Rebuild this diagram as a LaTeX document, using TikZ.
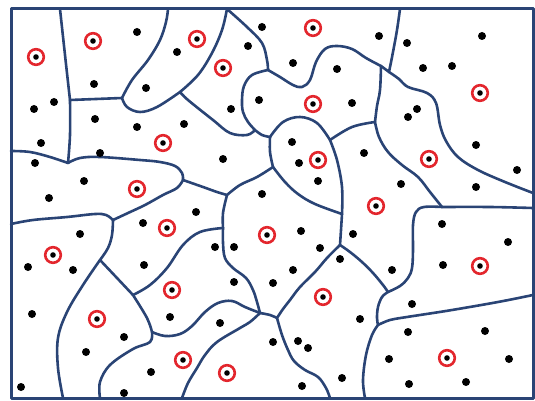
\documentclass[tikz,border=0pt]{standalone}
\usetikzlibrary{positioning}
\definecolor{wallcolor}{HTML}{2A4475}
\definecolor{ringcolor}{HTML}{E3262D}

\begin{document}
\begin{tikzpicture}[x=1pt, y=-1pt, line join=round, line cap=round]

\tikzset{
  boundary/.style={draw=wallcolor, line width=2.6pt},
  sample/.style={fill=black},
  centroid/.style={draw=ringcolor, line width=2.6pt, fill=white},
}

\useasboundingbox (0,0) rectangle (535,401);

% ---- junctions on the frame ----
\coordinate (t1) at (60,9);   \coordinate (t2) at (168,9);
\coordinate (t3) at (227,9);  \coordinate (t4) at (400,9);
\coordinate (l1) at (11,151); \coordinate (l2) at (11,224);
\coordinate (r1) at (533,193); \coordinate (r2) at (533,208);
\coordinate (r3) at (533,295);
\coordinate (b1) at (63,398);  \coordinate (b2) at (100,398);
\coordinate (b3) at (182,398); \coordinate (b4) at (330,398);
\coordinate (b5) at (365,398);

% ---- inner junctions ----
\coordinate (ja) at (70,100);  \coordinate (jb) at (68,163);
\coordinate (jc) at (122,98);  \coordinate (jd) at (180,92);
\coordinate (je) at (268,70);  \coordinate (jf) at (255,130);
\coordinate (jg) at (270,137); \coordinate (jh) at (330,140);
\coordinate (ji) at (375,122); \coordinate (jj) at (381,66);
\coordinate (jz) at (389,72);  \coordinate (jk) at (273,167);
\coordinate (jl) at (342,214); \coordinate (jm) at (340,245);
\coordinate (jn) at (227,195); \coordinate (jo) at (183,180);
\coordinate (jp) at (113,220); \coordinate (jq) at (100,260);
\coordinate (jr) at (133,295); \coordinate (js) at (152,332);
\coordinate (jt) at (223,228); \coordinate (ju) at (260,313);
\coordinate (jv) at (277,318); \coordinate (jw) at (388,292);
\coordinate (jx) at (378,325); \coordinate (jy) at (442,207);

% ---- upper left cells ----
\draw[boundary] plot[smooth, tension=0.6] coordinates {(t1) (65,55) (ja)};
\draw[boundary] plot[smooth, tension=0.6] coordinates {(ja) (70,135) (jb)};
\draw[boundary] plot[smooth, tension=0.6] coordinates {(ja) (96,99) (jc)};
\draw[boundary] plot[smooth, tension=0.6] coordinates {(jc) (132,80) (148,60) (160,40) (166,22) (t2)};
\draw[boundary] plot[smooth, tension=0.6] coordinates {(jc) (127,107) (140,112) (157,107) (jd)};
\draw[boundary] plot[smooth, tension=0.6] coordinates {(jd) (198,75) (212,53) (222,30) (t3)};
\draw[boundary] plot[smooth, tension=0.6] coordinates {(t3) (247,27) (262,43) (267,60) (je)};
\draw[boundary] plot[smooth, tension=0.6] coordinates {(jd) (188,100) (213,120) (230,133) (247,135) (jf)};
\draw[boundary] plot[smooth, tension=0.6] coordinates {(jf) (248,122) (243,112) (242,100) (244,86) (252,75) (je)};
\draw[boundary] plot[smooth, tension=0.6] coordinates {(jf) (262,135) (jg)};

% ---- upper middle and right cells ----
\draw[boundary] plot[smooth, tension=0.6] coordinates {(je) (280,77) (293,85) (302,87) (310,80) (316,62) (325,49) (337,46) (352,49) (366,58) (jj)};
\draw[boundary] plot[smooth, tension=0.6] coordinates {(jj) (jz)};
\draw[boundary] plot[smooth, tension=0.6] coordinates {(t4) (397,30) (393,52) (jz)};
\draw[boundary] plot[smooth, tension=0.6] coordinates {(jz) (399,79) (408,87) (427,93) (436,103) (440,125) (446,141) (458,157) (478,170) (505,182) (r1)};
\draw[boundary] plot[smooth, tension=0.6] coordinates {(jj) (380,90) (377,106) (ji)};
\draw[boundary] plot[smooth, tension=0.6] coordinates {(ji) (352,127) (jh)};
\draw[boundary] plot[smooth, tension=0.6] coordinates {(ji) (379,137) (388,152) (402,165) (418,177) (430,192) (jy)};
\draw[boundary] plot[smooth, tension=0.6] coordinates {(jy) (490,207) (r2)};
\draw[boundary] plot[smooth, tension=0.6] coordinates {(jy) (424,207) (416,212) (413,225) (413,250) (412,268) (408,278) (400,286) (jw)};

% ---- middle oval ----
\draw[boundary] plot[smooth, tension=0.6] coordinates {(jg) (283,122) (300,117) (317,123) (jh)};
\draw[boundary] plot[smooth, tension=0.6] coordinates {(jh) (337,160) (342,187) (jl)};
\draw[boundary] plot[smooth, tension=0.6] coordinates {(jg) (270,152) (jk)};
\draw[boundary] plot[smooth, tension=0.6] coordinates {(jk) (285,182) (298,194) (315,204) (jl)};
\draw[boundary] plot[smooth, tension=0.6] coordinates {(jl) (341,230) (jm)};

% ---- lower right cells ----
\draw[boundary] plot[smooth, tension=0.6] coordinates {(jm) (350,252) (362,262) (373,273) (383,285) (jw)};
\draw[boundary] plot[smooth, tension=0.6] coordinates {(jw) (382,297) (378,307) (377,318) (jx)};
\draw[boundary] plot[smooth, tension=0.6] coordinates {(jx) (390,320) (407,317) (420,315) (452,310) (498,302) (r3)};
\draw[boundary] plot[smooth, tension=0.6] coordinates {(jx) (372,335) (366,355) (363,380) (b5)};

% ---- lower middle cells ----
\draw[boundary] plot[smooth, tension=0.6] coordinates {(jm) (327,258) (315,272) (300,287) (290,300) (283,309) (jv)};
\draw[boundary] plot[smooth, tension=0.6] coordinates {(jv) (270,315) (ju)};
\draw[boundary] plot[smooth, tension=0.6] coordinates {(jv) (282,335) (288,350) (294,361) (305,370) (318,377) (326,388) (b4)};
\draw[boundary] plot[smooth, tension=0.6] coordinates {(ju) (257,302) (253,290) (246,278) (233,268) (225,258) (223,243) (jt)};
\draw[boundary] plot[smooth, tension=0.6] coordinates {(jt) (223,213) (jn)};
\draw[boundary] plot[smooth, tension=0.6] coordinates {(jn) (217,192) (203,187) (jo)};
\draw[boundary] plot[smooth, tension=0.6] coordinates {(jn) (240,185) (257,177) (jk)};

% ---- left middle cells ----
\draw[boundary] plot[smooth, tension=0.6] coordinates {(jo) (182,173) (175,166) (160,162) (140,160) (100,157) (80,158) (jb)};
\draw[boundary] plot[smooth, tension=0.6] coordinates {(l1) (30,152) (50,157) (jb)};
\draw[boundary] plot[smooth, tension=0.6] coordinates {(jo) (177,188) (163,195) (145,205) (128,213) (jp)};
\draw[boundary] plot[smooth, tension=0.6] coordinates {(l2) (33,220) (67,217) (95,214) (106,215) (jp)};
\draw[boundary] plot[smooth, tension=0.6] coordinates {(jp) (112,235) (108,248) (jq)};

% ---- lower left cells ----
\draw[boundary] plot[smooth, tension=0.6] coordinates {(jq) (83,285) (67,312) (58,338) (58,368) (b1)};
\draw[boundary] plot[smooth, tension=0.6] coordinates {(jq) (117,278) (jr)};
\draw[boundary] plot[smooth, tension=0.6] coordinates {(jr) (147,318) (js)};
\draw[boundary] plot[smooth, tension=0.6] coordinates {(js) (150,342) (133,349) (110,365) (100,382) (b2)};
\draw[boundary] plot[smooth, tension=0.6] coordinates {(jr) (150,285) (167,268) (183,245) (200,232) (jt)};
\draw[boundary] plot[smooth, tension=0.6] coordinates {(js) (165,336) (180,334) (192,326) (205,312) (218,303) (232,301) (245,307) (ju)};
\draw[boundary] plot[smooth, tension=0.6] coordinates {(ju) (250,322) (240,328) (217,342) (205,355) (197,368) (188,383) (b3)};

% ---- frame ----
\draw[boundary, line width=3pt] (11,9) rectangle (533,398);

% ---- sample points ----
\foreach \x/\y in {137/32, 177/52, 94/84, 146/88, 54/102, 34/109, 95/119, 137/127,
  184/124, 41/143, 100/153, 35/163, 223/159, 84/181, 49/198, 248/46, 259/100,
  231/109, 262/27, 262/194, 379/36, 407/43, 482/36, 293/63, 337/69, 423/68,
  452/66, 352/103, 417/109, 408/117, 292/142, 299/163, 318/181, 364/153,
  401/184, 476/145, 517/170, 476/187, 80/234, 28/267, 73/270, 32/314, 21/387,
  143/223, 196/212, 144/265, 215/247, 234/247, 234/282, 170/317, 220/323,
  124/337, 86/352, 151/372, 124/393, 301/231, 353/234, 320/248, 293/270,
  273/283, 340/259, 392/270, 442/224, 508/242, 443/265, 412/304, 360/319,
  273/342, 298/341, 308/348, 342/378, 302/386, 408/332, 485/331, 389/359,
  509/359, 409/384, 466/382}
  \fill[sample] (\x,\y) circle (4pt);

% ---- cell centres ----
\foreach \x/\y in {36/57, 93/41, 197/39, 223/68, 313/28, 313/104, 163/143,
  318/160, 429/159, 480/93, 137/189, 167/228, 376/206, 267/235, 53/255,
  480/266, 172/290, 323/297, 97/319, 183/360, 227/373, 447/358}
{
  \draw[centroid] (\x,\y) circle (7.8pt);
  \fill[sample] (\x,\y) circle (2.8pt);
}

\end{tikzpicture}
\end{document}
